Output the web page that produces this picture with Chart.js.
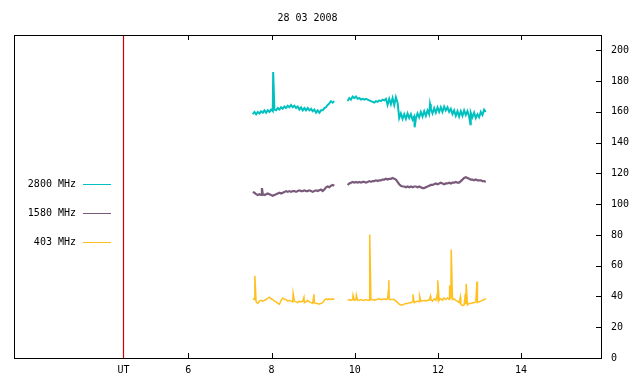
<!DOCTYPE html>
<html><head><meta charset="utf-8">
<script src="https://cdn.jsdelivr.net/npm/chart.js@4/dist/chart.umd.min.js"></script>
<style>html,body{margin:0;padding:0;background:#fff}canvas{display:block}</style>
</head><body>
<canvas id="c" width="640" height="384"></canvas>
<script>
const TITLE = '28 03 2008';
const xTicks = [4.442, 6, 8, 10, 12, 14];
const xTickLabels = ['UT', '6', '8', '10', '12', '14'];
const utTime = 4.442;
const yTicks = [0, 20, 40, 60, 80, 100, 120, 140, 160, 180, 200];
const seriesLabels = ['2800 MHz', '1580 MHz', '403 MHz'];
const seriesColors = ['#00c0c0', '#7a5a7a', '#ffc020'];

// shared sampling times (hours UT); 9.68 marks the data gap
const timesUT = [
  7.55,7.59,7.63,7.67,7.71,7.75,7.79,7.83,7.87,7.91,
  7.95,7.99,8.03,8.07,8.11,8.15,8.19,8.23,8.27,8.31,
  8.35,8.39,8.43,8.47,8.51,8.55,8.59,8.63,8.67,8.71,
  8.75,8.79,8.83,8.87,8.91,8.95,8.99,9.03,9.07,9.11,
  9.15,9.19,9.23,9.27,9.31,9.35,9.39,9.43,9.47,9.51,
  9.68,
  9.83,9.87,9.91,9.95,9.99,10.03,10.07,10.11,10.15,10.19,
  10.23,10.27,10.31,10.35,10.39,10.43,10.47,10.51,10.55,10.59,
  10.63,10.67,10.71,10.75,10.79,10.83,10.87,10.91,10.95,10.99,
  11.03,11.07,11.11,11.15,11.19,11.23,11.27,11.31,11.35,11.39,
  11.43,11.47,11.51,11.55,11.59,11.63,11.67,11.71,11.75,11.79,
  11.83,11.87,11.91,11.95,11.99,12.03,12.07,12.11,12.15,12.19,
  12.23,12.27,12.31,12.35,12.39,12.43,12.47,12.51,12.55,12.59,
  12.63,12.67,12.71,12.75,12.79,12.83,12.87,12.91,12.95,12.99,
  13.03,13.07,13.11,13.15
];

const flux2800 = [
  158.5,160,158.5,160,159,160.5,159.5,161,159.5,161,
  160,161.5,160.5,161.5,161,162.5,161.5,163,162,163.5,
  162.5,164,163,164.5,163,164,162.5,163.5,161.5,163,
  161,162.5,161,162.5,161,162,160.5,161.5,159.5,161,
  159.5,161,161,162.5,163,164.5,165.5,167,166,167,
  null,
  167,169,168,170,169,170,168.5,169,168,168.5,
  168,168.5,168,167.5,167,166.5,166,167,166.5,167.5,
  167,168,167.5,168.5,164.5,168.5,165,169,164.5,169.5,
  166,156,159,155.5,158.5,155.5,159,156,158.5,155,
  157,155.5,159,156.5,160,157,160.5,157.5,161,158.5,
  162,159,162.5,159.5,163,160,163,160,163.5,161,
  163,160,162,158.5,161,157.5,160.5,157,160.5,157.5,
  161,158,160.5,157,159.5,156.5,159.5,156,158.5,156.5,
  160,158,161.5,160
];
const flux1580 = [
  108,107.5,106.5,106,106.5,106,106.5,106,106.5,107,
  106.5,106,105.5,106,106.5,107,107.5,107,107.5,108,
  108.5,108,108.5,108,108.5,108.5,108,108.5,109,108.5,
  108.5,109,108.5,108.5,109,108.5,108,108.5,109,108.5,
  109,109.5,108.5,109.5,111,111.5,111,112,112.5,112,
  null,
  112.5,113.5,114,114.5,114,114.5,114,114.5,114,114.5,
  114.5,114,114.5,115,114.5,115,115,115.5,115,115.5,
  115.5,116,116,116.5,116,116.5,116.5,117,116.5,116,
  114.5,113,112,111.5,111.5,111,111.5,111,111.5,111,
  111.5,111.5,111,111.5,111,110.5,110.5,111,111.5,112,
  112.5,112.5,113,113.5,113,113.5,114,113.5,113,113.5,
  113.5,114,113.5,114,114,114.5,114,114,115,116,
  117,117.5,117,116.5,116,116,115.5,116,115.5,115.5,
  115.5,115,115,114.5
];
const flux403 = [
  38.5,38,36.5,35.5,37,37.5,37,37.5,38,39,
  39.5,38.5,38,37,36.5,35.5,35,37.5,39,38,
  38,37,37.5,37,36.5,37,36.5,36,37,36.5,
  37,36,36.5,37.5,36.5,36,35.5,36,35.5,35.5,
  35,35.5,36,37.5,38.5,38,38.5,38,38.5,38,
  null,
  37.5,38,37.5,38,37.5,38,37.5,37.5,38,37.5,
  37.5,38,37.5,37.5,38,38,37.5,38,38,38.5,
  38,38,38.5,38,38.5,38,38,38,38,37,
  36,35,34.5,34.5,35,35.5,35.5,36,36,36.5,
  36,36.5,37,36.5,37,37,37.5,37,37.5,37.5,
  38,37,38.5,37.5,39,37.5,38.5,37.5,39,38,
  39,38,38.5,38,38.5,37.5,37,36,35,34,
  34.5,35,34.5,35.5,35.5,36,36,36.5,36,36.5,
  37,37.5,38,38.5
];

// isolated single-sample spikes
const spikeT2800 = [8.04, 11.44, 11.81, 12.78];
const spikeV2800 = [186, 150, 165, 152];
const spikeT1580 = [7.77];
const spikeV1580 = [110.5];
const spikeT403 = [7.60, 8.52, 8.78, 9.02, 9.96, 10.04, 10.36, 10.81, 10.82, 11.40, 11.56, 11.82, 11.98, 12.00, 12.14, 12.28, 12.32, 12.54, 12.66, 12.68, 12.94];
const spikeV403 = [53.5, 42, 39.5, 41.5, 40.8, 40.8, 80.3, 44, 50.5, 41.4, 40.3, 40.3, 40.8, 50.5, 39, 47.2, 70.6, 39.7, 41.9, 48.3, 49.8];

function build(times, vals, st, sv) {
  const pts = times.map((t, i) => ({x: t, y: vals[i]}));
  st.forEach((t, i) => pts.push({x: t, y: sv[i]}));
  pts.sort((a, b) => a.x - b.x);
  return pts;
}

Chart.defaults.font = {family: "'DejaVu Sans Mono', monospace", size: 10};
Chart.defaults.color = '#000';

const decor = {
  id: 'decor',
  afterDatasetsDraw(chart) {
    const {ctx, chartArea: a, scales: {x, y}} = chart;
    ctx.save();
    ctx.strokeStyle = '#000';
    ctx.lineWidth = 1;
    ctx.strokeRect(a.left + 0.5, a.top + 0.5, a.right - a.left, a.bottom - a.top);
    ctx.beginPath();
    yTicks.forEach(v => {
      if (v === 0) return;
      const py = Math.round(y.getPixelForValue(v)) + 0.5;
      ctx.moveTo(a.right - 5, py); ctx.lineTo(a.right, py);
    });
    xTicks.forEach(v => {
      if (v === utTime) return;
      const px = Math.round(x.getPixelForValue(v)) + 0.5;
      ctx.moveTo(px, a.bottom); ctx.lineTo(px, a.bottom - 5);
      ctx.moveTo(px, a.top); ctx.lineTo(px, a.top + 5);
    });
    ctx.stroke();
    // legend
    ctx.font = "10px 'DejaVu Sans Mono', monospace";
    ctx.textAlign = 'right';
    ctx.textBaseline = 'middle';
    seriesLabels.forEach((lab, i) => {
      const ly = 184 + i * 29;
      ctx.fillStyle = '#000';
      ctx.fillText(lab, 76, ly);
      ctx.strokeStyle = seriesColors[i];
      ctx.beginPath();
      ctx.moveTo(83, ly + 0.5); ctx.lineTo(111, ly + 0.5);
      ctx.stroke();
    });
    // title
    ctx.textAlign = 'center';
    ctx.fillStyle = '#000';
    ctx.fillText(TITLE, (a.left + a.right) / 2, 18);
    ctx.restore();
  }
};

new Chart(document.getElementById('c'), {
  type: 'line',
  data: {
    datasets: [
      {label: seriesLabels[0], data: build(timesUT, flux2800, spikeT2800, spikeV2800), borderColor: seriesColors[0], borderWidth: 2},
      {label: seriesLabels[1], data: build(timesUT, flux1580, spikeT1580, spikeV1580), borderColor: seriesColors[1], borderWidth: 2.2},
      {label: seriesLabels[2], data: build(timesUT, flux403, spikeT403, spikeV403), borderColor: seriesColors[2], borderWidth: 1.5},
      {label: 'UT', data: [{x: utTime, y: 0}, {x: utTime, y: 210}], borderColor: '#cc0000', borderWidth: 1.2}
    ]
  },
  plugins: [decor],
  options: {
    responsive: false,
    devicePixelRatio: 1,
    animation: false,
    spanGaps: false,
    elements: {point: {radius: 0}, line: {tension: 0}},
    layout: {padding: {top: 35, left: 14, right: 0, bottom: 0}},
    plugins: {legend: {display: false}, title: {display: false}, tooltip: {enabled: false}},
    scales: {
      x: {
        type: 'linear', min: 1.81, max: 15.92,
        afterBuildTicks: s => { s.ticks = xTicks.map(v => ({value: v})); },
        afterFit: s => { s.height = 26; },
        ticks: {autoSkip: false, maxRotation: 0, minRotation: 0, padding: 6,
          callback: v => xTickLabels[xTicks.indexOf(v)]},
        grid: {display: false, drawTicks: false},
        border: {display: false}
      },
      y: {
        position: 'right', min: 0, max: 210,
        afterBuildTicks: s => { s.ticks = yTicks.map(v => ({value: v})); },
        afterFit: s => { s.width = 39; },
        ticks: {padding: 10, callback: v => String(v)},
        grid: {display: false, drawTicks: false},
        border: {display: false}
      }
    }
  }
});
</script>
</body></html>
